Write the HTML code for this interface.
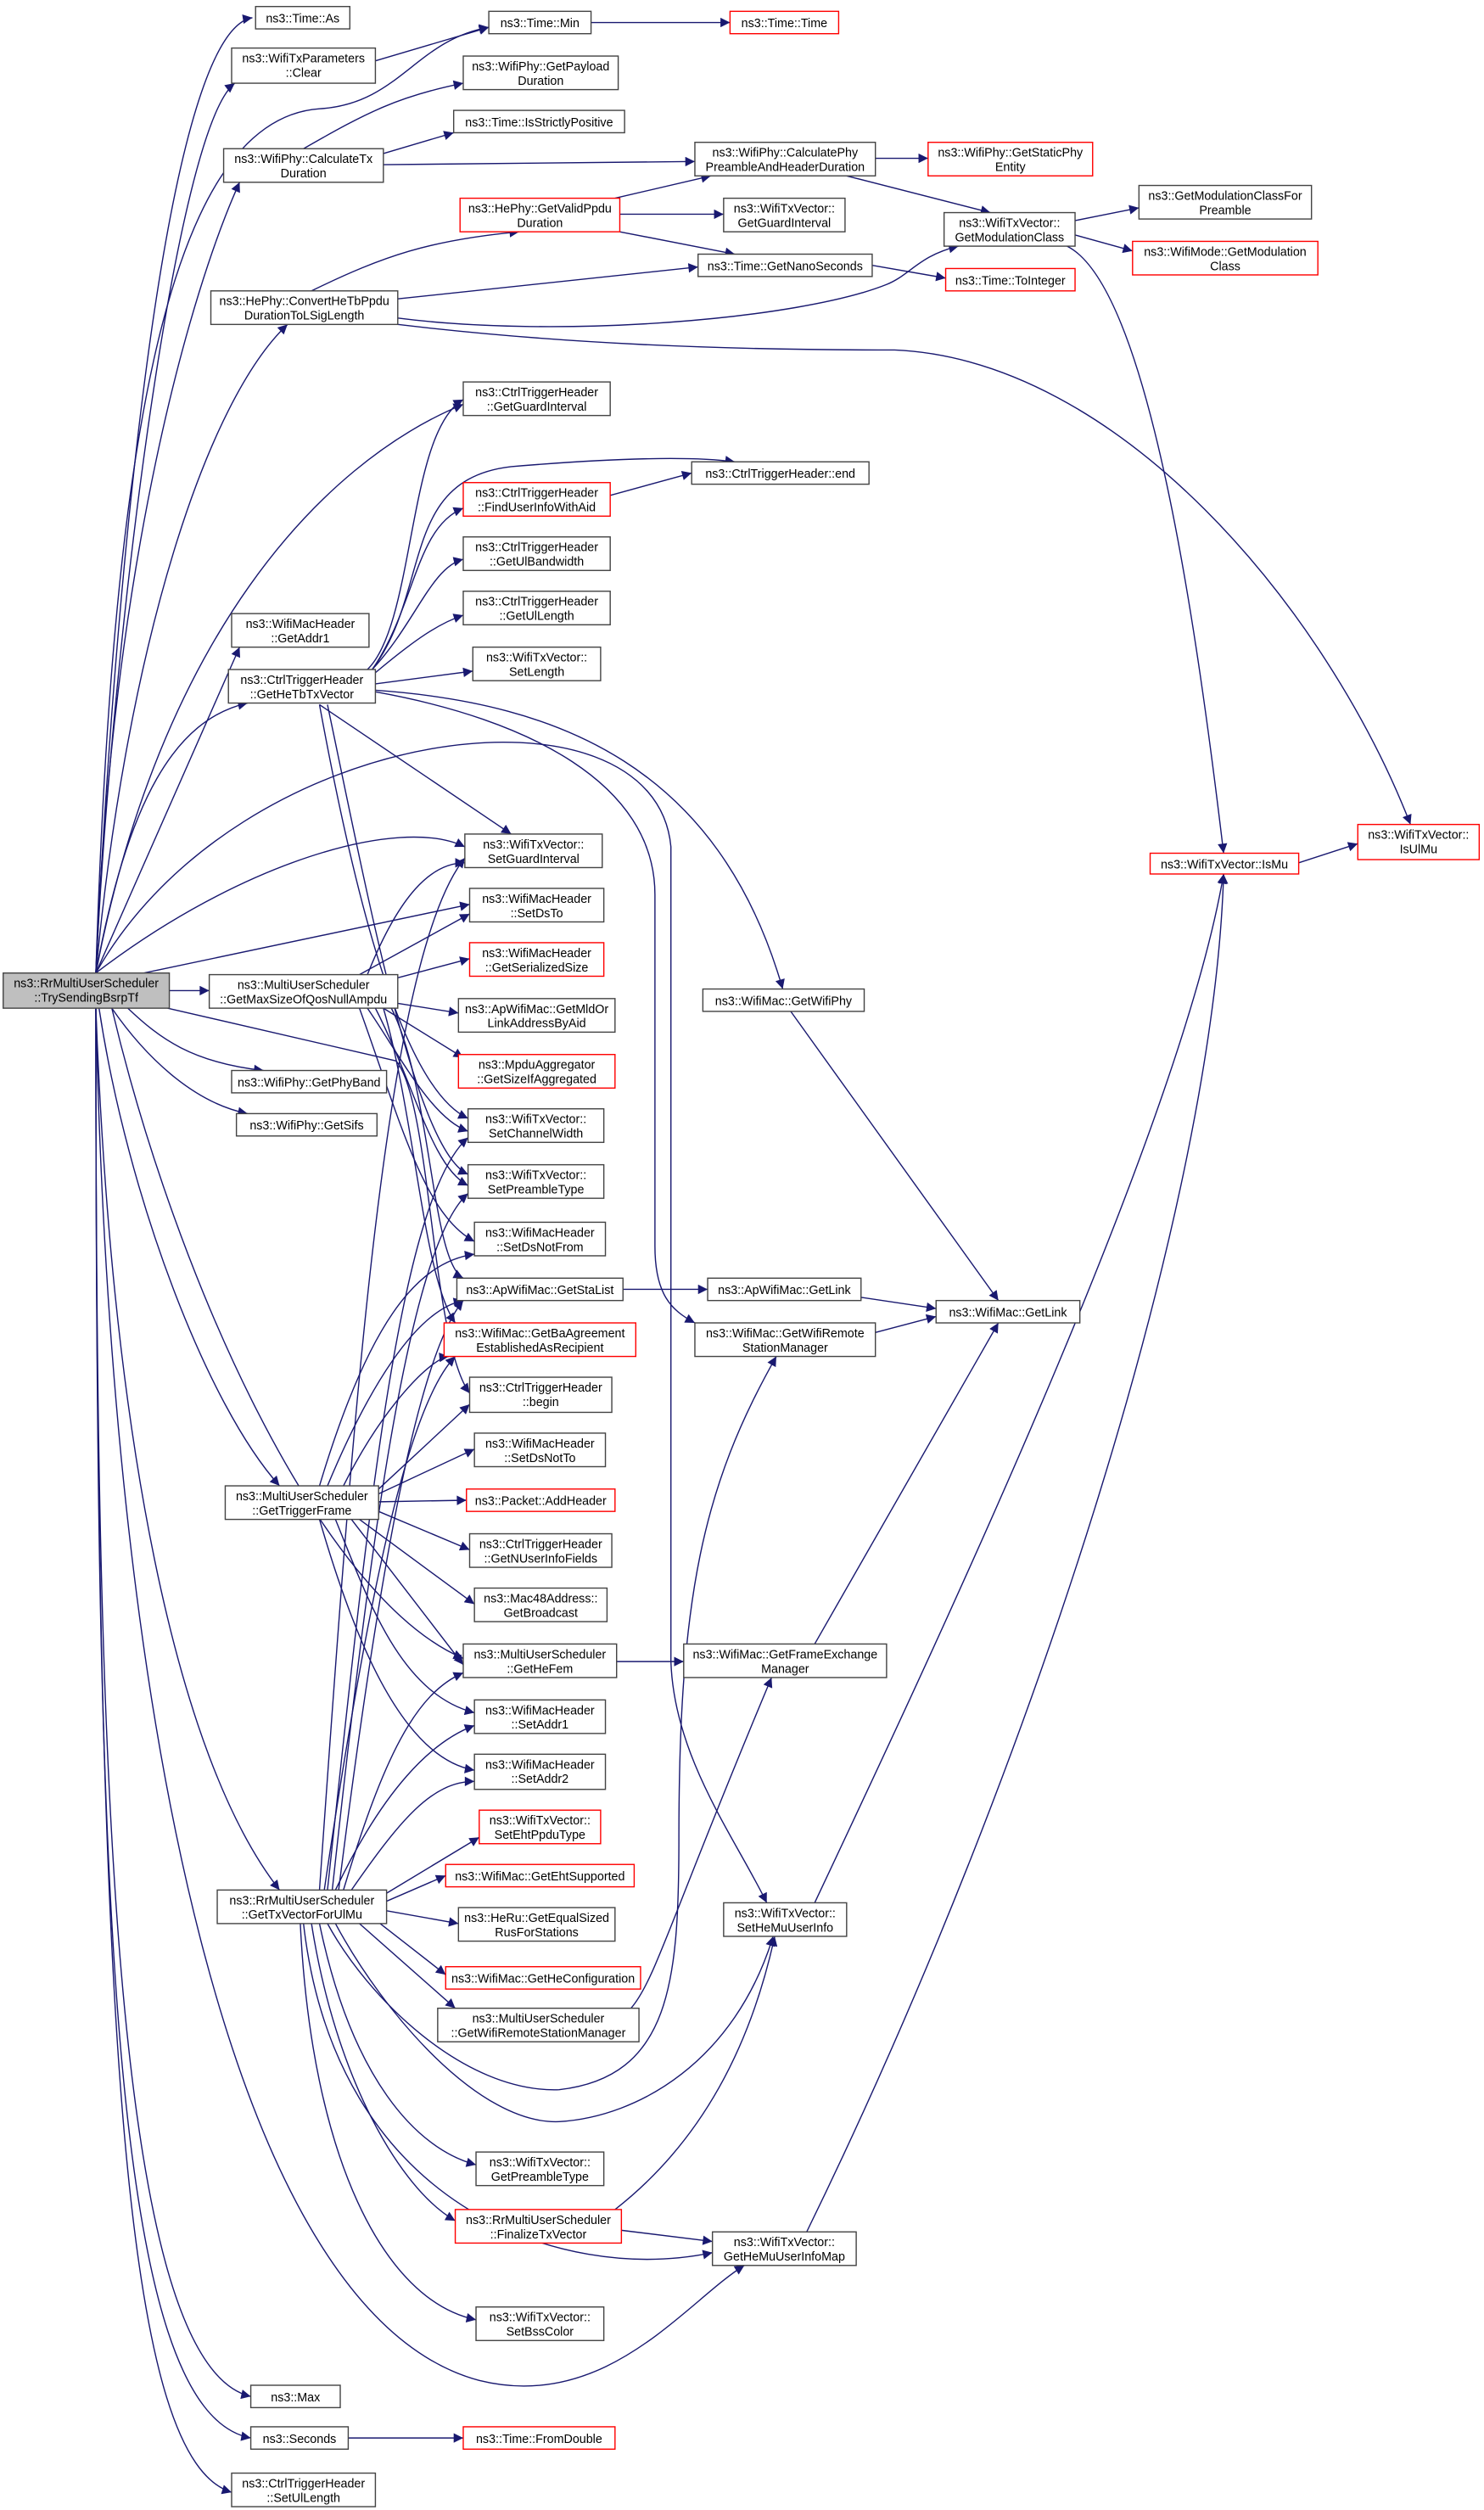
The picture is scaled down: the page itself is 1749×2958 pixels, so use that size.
<!DOCTYPE html>
<html><head><meta charset="utf-8"><style>
html,body{margin:0;padding:0;background:#fff}
svg{display:block}
text{font-family:"Liberation Sans","DejaVu Sans",sans-serif;font-size:7.6px;fill:#000;text-anchor:middle}
.n{fill:#fff;stroke:#444;stroke-width:0.75}
.r{fill:#fff;stroke:#ff0000;stroke-width:0.75}
.g{fill:#bfbfbf;stroke:#444;stroke-width:0.75}
.e{fill:none;stroke:#191970;stroke-width:0.75;marker-end:url(#a)}
</style></head><body>
<svg width="1749" height="2958" viewBox="0 0 929 1571" xmlns="http://www.w3.org/2000/svg">
<defs><marker id="a" viewBox="0 0 10 10" refX="10" refY="5" markerWidth="8" markerHeight="6" markerUnits="userSpaceOnUse" orient="auto"><path d="M0,0 L10,5 L0,10 z" fill="#191970"/></marker></defs>
<g>
<path class="e" d="M60,609 C70,400 100,20 158,11"/>
<path class="e" d="M60,609 C70,400 110,80 147,52"/>
<path class="e" d="M60,609 C70,300 100,75 200,68 C250,65 260,25 306,17"/>
<path class="e" d="M235,38 L306,17"/>
<path class="e" d="M370,14 L457,14"/>
<path class="e" d="M190,93 C230,70 250,60 290,52"/>
<path class="e" d="M240,96 L284,83"/>
<path class="e" d="M240,103 L435,101"/>
<path class="e" d="M60,609 C70,350 120,180 150,114"/>
<path class="e" d="M548,99 L581,99"/>
<path class="e" d="M530,110 L620,133"/>
<path class="e" d="M385,124 L445,110"/>
<path class="e" d="M388,134 L453,134"/>
<path class="e" d="M388,145 L460,159"/>
<path class="e" d="M195,182 C240,160 270,150 325,145"/>
<path class="e" d="M249,187 L437,167"/>
<path class="e" d="M249,199 C350,212 500,200 555,178 C570,172 575,160 600,154"/>
<path class="e" d="M249,203 C350,215 450,219 560,219 C700,225 830,380 883,516"/>
<path class="e" d="M546,166 L592,174"/>
<path class="e" d="M673,138 L713,130"/>
<path class="e" d="M673,147 L709,157"/>
<path class="e" d="M668,154 C720,180 750,400 766,534"/>
<path class="e" d="M813,540 L850,528"/>
<path class="e" d="M60,609 C80,400 130,250 180,203"/>
<path class="e" d="M60,609 C100,400 200,290 290,253"/>
<path class="e" d="M60,609 L150,405"/>
<path class="e" d="M60,609 C80,500 110,450 155,440"/>
<path class="e" d="M230,419 C260,390 255,270 290,250"/>
<path class="e" d="M233,419 C270,370 250,300 320,292 C380,287 430,285 460,289"/>
<path class="e" d="M382,310 L433,296"/>
<path class="e" d="M233,419 C260,380 260,330 290,318"/>
<path class="e" d="M233,419 C260,390 270,355 290,350"/>
<path class="e" d="M235,421 C260,400 275,390 290,385"/>
<path class="e" d="M235,428 L296,420"/>
<path class="e" d="M200,441 L320,522"/>
<path class="e" d="M235,432 C350,440 450,480 490,619"/>
<path class="e" d="M235,433 C330,450 410,490 410,560 L410,780 C410,810 420,820 435,828"/>
<path class="e" d="M200,441 C220,550 250,680 293,700"/>
<path class="e" d="M205,441 C230,560 260,720 293,735"/>
<path class="e" d="M60,609 C150,450 410,420 420,530 L420,1040 C422,1100 460,1150 480,1191"/>
<path class="e" d="M60,609 C150,540 250,510 291,530"/>
<path class="e" d="M90,609 L294,566"/>
<path class="e" d="M106,620 L131,620"/>
<path class="e" d="M230,610 C250,560 270,540 291,540"/>
<path class="e" d="M249,612 L294,600"/>
<path class="e" d="M225,610 L294,572"/>
<path class="e" d="M249,628 L287,634"/>
<path class="e" d="M240,631 L290,662"/>
<path class="e" d="M230,631 C250,660 270,700 293,708"/>
<path class="e" d="M235,631 C260,680 270,730 293,742"/>
<path class="e" d="M225,631 C250,700 265,760 297,777"/>
<path class="e" d="M245,631 C270,680 270,790 290,800"/>
<path class="e" d="M240,631 C260,700 265,800 285,828"/>
<path class="e" d="M80,631 C100,650 120,665 165,670"/>
<path class="e" d="M70,631 C90,660 120,690 155,697"/>
<path class="e" d="M105,631 L248,664 C270,690 270,840 294,872"/>
<path class="e" d="M70,631 C110,800 200,1000 290,1038"/>
<path class="e" d="M62,631 C80,750 130,880 175,930"/>
<path class="e" d="M60,631 C70,900 110,1100 175,1183"/>
<path class="e" d="M60,631 C70,1100 150,1450 300,1490 C380,1510 430,1440 466,1418"/>
<path class="e" d="M60,631 C60,1100 70,1480 157,1500"/>
<path class="e" d="M60,631 C60,1200 70,1510 157,1526"/>
<path class="e" d="M60,631 C60,1300 80,1540 145,1560"/>
<path class="e" d="M218,1526 L290,1526"/>
<path class="e" d="M237,935 L297,907"/>
<path class="e" d="M237,940 L292,939"/>
<path class="e" d="M237,946 L294,970"/>
<path class="e" d="M225,951 L297,1004"/>
<path class="e" d="M220,951 L290,1042"/>
<path class="e" d="M210,951 C230,1000 250,1060 297,1072"/>
<path class="e" d="M200,951 C220,1020 250,1100 297,1108"/>
<path class="e" d="M237,932 L294,879"/>
<path class="e" d="M205,930 C230,870 260,820 290,814"/>
<path class="e" d="M215,930 C240,880 270,850 281,849"/>
<path class="e" d="M200,930 C230,830 260,790 297,785"/>
<path class="e" d="M242,1185 L300,1150"/>
<path class="e" d="M242,1190 L279,1174"/>
<path class="e" d="M242,1196 L287,1204"/>
<path class="e" d="M238,1204 L279,1236"/>
<path class="e" d="M225,1204 L285,1257"/>
<path class="e" d="M210,1183 C240,1120 270,1090 297,1080"/>
<path class="e" d="M220,1183 C250,1140 270,1115 297,1115"/>
<path class="e" d="M200,1183 C220,900 240,600 291,537"/>
<path class="e" d="M205,1183 C230,950 250,750 293,712"/>
<path class="e" d="M208,1183 C230,980 255,780 293,747"/>
<path class="e" d="M212,1183 C235,1000 260,850 290,814"/>
<path class="e" d="M203,1183 C230,1000 255,880 285,849"/>
<path class="e" d="M215,1183 C240,1100 260,1060 290,1047"/>
<path class="e" d="M210,1204 C240,1260 300,1330 350,1328 C400,1325 460,1290 484,1212"/>
<path class="e" d="M205,1204 C230,1250 290,1310 350,1308 C420,1300 425,1240 425,1150 C425,1000 440,930 486,849"/>
<path class="e" d="M200,1204 C220,1300 260,1345 298,1355"/>
<path class="e" d="M195,1204 C210,1300 250,1370 285,1390"/>
<path class="e" d="M190,1204 C210,1380 350,1430 446,1410"/>
<path class="e" d="M188,1204 C195,1350 240,1440 298,1452"/>
<path class="e" d="M395,1257 C410,1240 420,1200 483,1050"/>
<path class="e" d="M386,1040 L428,1040"/>
<path class="e" d="M510,1029 L625,828"/>
<path class="e" d="M390,807 L443,807"/>
<path class="e" d="M539,812 L586,819"/>
<path class="e" d="M548,834 L586,824"/>
<path class="e" d="M495,633 L625,814"/>
<path class="e" d="M510,1191 C600,1000 740,700 766,547"/>
<path class="e" d="M505,1397 C650,1100 760,750 766,547"/>
<path class="e" d="M385,1383 C440,1340 470,1280 485,1212"/>
<path class="e" d="M389,1396 L446,1403"/>
</g>
<g>
<rect class="g" x="2" y="609" width="104" height="22"/><text x="54" y="618">ns3::RrMultiUserScheduler</text><text x="54" y="627">::TrySendingBsrpTf</text>
<rect class="n" x="160" y="4" width="59" height="14"/><text x="189.5" y="14">ns3::Time::As</text>
<rect class="n" x="145" y="30" width="90" height="22"/><text x="190" y="39">ns3::WifiTxParameters</text><text x="190" y="48">::Clear</text>
<rect class="n" x="306" y="7" width="64" height="14"/><text x="338" y="17">ns3::Time::Min</text>
<rect class="r" x="457" y="7" width="68" height="14"/><text x="491" y="17">ns3::Time::Time</text>
<rect class="n" x="290" y="35" width="97" height="21"/><text x="338.5" y="44">ns3::WifiPhy::GetPayload</text><text x="338.5" y="53">Duration</text>
<rect class="n" x="284" y="69" width="107" height="14"/><text x="337.5" y="79">ns3::Time::IsStrictlyPositive</text>
<rect class="n" x="140" y="93" width="100" height="21"/><text x="190" y="102">ns3::WifiPhy::CalculateTx</text><text x="190" y="111">Duration</text>
<rect class="n" x="435" y="89" width="113" height="21"/><text x="491.5" y="98">ns3::WifiPhy::CalculatePhy</text><text x="491.5" y="107">PreambleAndHeaderDuration</text>
<rect class="r" x="581" y="89" width="103" height="21"/><text x="632.5" y="98">ns3::WifiPhy::GetStaticPhy</text><text x="632.5" y="107">Entity</text>
<rect class="r" x="288" y="124" width="100" height="21"/><text x="338" y="133">ns3::HePhy::GetValidPpdu</text><text x="338" y="142">Duration</text>
<rect class="n" x="453" y="124" width="76" height="21"/><text x="491" y="133">ns3::WifiTxVector::</text><text x="491" y="142">GetGuardInterval</text>
<rect class="n" x="591" y="133" width="82" height="21"/><text x="632" y="142">ns3::WifiTxVector::</text><text x="632" y="151">GetModulationClass</text>
<rect class="n" x="713" y="116" width="108" height="21"/><text x="767" y="125">ns3::GetModulationClassFor</text><text x="767" y="134">Preamble</text>
<rect class="r" x="709" y="151" width="116" height="21"/><text x="767" y="160">ns3::WifiMode::GetModulation</text><text x="767" y="169">Class</text>
<rect class="n" x="437" y="159" width="109" height="14"/><text x="491.5" y="169">ns3::Time::GetNanoSeconds</text>
<rect class="r" x="592" y="168" width="81" height="14"/><text x="632.5" y="178">ns3::Time::ToInteger</text>
<rect class="n" x="132" y="182" width="117" height="21"/><text x="190.5" y="191">ns3::HePhy::ConvertHeTbPpdu</text><text x="190.5" y="200">DurationToLSigLength</text>
<rect class="n" x="290" y="239" width="92" height="21"/><text x="336" y="248">ns3::CtrlTriggerHeader</text><text x="336" y="257">::GetGuardInterval</text>
<rect class="n" x="433" y="289" width="111" height="14"/><text x="488.5" y="299">ns3::CtrlTriggerHeader::end</text>
<rect class="r" x="290" y="302" width="92" height="21"/><text x="336" y="311">ns3::CtrlTriggerHeader</text><text x="336" y="320">::FindUserInfoWithAid</text>
<rect class="n" x="290" y="336" width="92" height="21"/><text x="336" y="345">ns3::CtrlTriggerHeader</text><text x="336" y="354">::GetUlBandwidth</text>
<rect class="n" x="290" y="370" width="92" height="21"/><text x="336" y="379">ns3::CtrlTriggerHeader</text><text x="336" y="388">::GetUlLength</text>
<rect class="n" x="145" y="384" width="86" height="21"/><text x="188" y="393">ns3::WifiMacHeader</text><text x="188" y="402">::GetAddr1</text>
<rect class="n" x="143" y="419" width="92" height="21"/><text x="189" y="428">ns3::CtrlTriggerHeader</text><text x="189" y="437">::GetHeTbTxVector</text>
<rect class="n" x="296" y="405" width="80" height="21"/><text x="336" y="414">ns3::WifiTxVector::</text><text x="336" y="423">SetLength</text>
<rect class="r" x="720" y="534" width="93" height="13"/><text x="766.5" y="543.5">ns3::WifiTxVector::IsMu</text>
<rect class="r" x="850" y="516" width="76" height="22"/><text x="888" y="525">ns3::WifiTxVector::</text><text x="888" y="534">IsUlMu</text>
<rect class="n" x="291" y="522" width="86" height="21"/><text x="334" y="531">ns3::WifiTxVector::</text><text x="334" y="540">SetGuardInterval</text>
<rect class="n" x="294" y="556" width="84" height="21"/><text x="336" y="565">ns3::WifiMacHeader</text><text x="336" y="574">::SetDsTo</text>
<rect class="r" x="294" y="590" width="84" height="21"/><text x="336" y="599">ns3::WifiMacHeader</text><text x="336" y="608">::GetSerializedSize</text>
<rect class="n" x="131" y="610" width="118" height="21"/><text x="190" y="619">ns3::MultiUserScheduler</text><text x="190" y="628">::GetMaxSizeOfQosNullAmpdu</text>
<rect class="n" x="440" y="619" width="101" height="14"/><text x="490.5" y="629">ns3::WifiMac::GetWifiPhy</text>
<rect class="n" x="287" y="625" width="98" height="21"/><text x="336" y="634">ns3::ApWifiMac::GetMldOr</text><text x="336" y="643">LinkAddressByAid</text>
<rect class="r" x="287" y="660" width="98" height="21"/><text x="336" y="669">ns3::MpduAggregator</text><text x="336" y="678">::GetSizeIfAggregated</text>
<rect class="n" x="145" y="670" width="97" height="14"/><text x="193.5" y="680">ns3::WifiPhy::GetPhyBand</text>
<rect class="n" x="148" y="697" width="88" height="14"/><text x="192" y="707">ns3::WifiPhy::GetSifs</text>
<rect class="n" x="293" y="694" width="85" height="21"/><text x="335.5" y="703">ns3::WifiTxVector::</text><text x="335.5" y="712">SetChannelWidth</text>
<rect class="n" x="293" y="729" width="85" height="21"/><text x="335.5" y="738">ns3::WifiTxVector::</text><text x="335.5" y="747">SetPreambleType</text>
<rect class="n" x="297" y="765" width="82" height="21"/><text x="338" y="774">ns3::WifiMacHeader</text><text x="338" y="783">::SetDsNotFrom</text>
<rect class="n" x="286" y="800" width="104" height="14"/><text x="338" y="810">ns3::ApWifiMac::GetStaList</text>
<rect class="n" x="443" y="800" width="96" height="14"/><text x="491" y="810">ns3::ApWifiMac::GetLink</text>
<rect class="n" x="586" y="814" width="90" height="14"/><text x="631" y="824">ns3::WifiMac::GetLink</text>
<rect class="r" x="278" y="828" width="120" height="21"/><text x="338" y="837">ns3::WifiMac::GetBaAgreement</text><text x="338" y="846">EstablishedAsRecipient</text>
<rect class="n" x="435" y="828" width="113" height="21"/><text x="491.5" y="837">ns3::WifiMac::GetWifiRemote</text><text x="491.5" y="846">StationManager</text>
<rect class="n" x="294" y="862" width="89" height="22"/><text x="338.5" y="871">ns3::CtrlTriggerHeader</text><text x="338.5" y="880">::begin</text>
<rect class="n" x="297" y="897" width="82" height="21"/><text x="338" y="906">ns3::WifiMacHeader</text><text x="338" y="915">::SetDsNotTo</text>
<rect class="r" x="292" y="932" width="93" height="14"/><text x="338.5" y="942">ns3::Packet::AddHeader</text>
<rect class="n" x="141" y="930" width="96" height="21"/><text x="189" y="939">ns3::MultiUserScheduler</text><text x="189" y="948">::GetTriggerFrame</text>
<rect class="n" x="294" y="960" width="89" height="21"/><text x="338.5" y="969">ns3::CtrlTriggerHeader</text><text x="338.5" y="978">::GetNUserInfoFields</text>
<rect class="n" x="297" y="994" width="83" height="21"/><text x="338.5" y="1003">ns3::Mac48Address::</text><text x="338.5" y="1012">GetBroadcast</text>
<rect class="n" x="290" y="1029" width="96" height="21"/><text x="338" y="1038">ns3::MultiUserScheduler</text><text x="338" y="1047">::GetHeFem</text>
<rect class="n" x="428" y="1029" width="127" height="21"/><text x="491.5" y="1038">ns3::WifiMac::GetFrameExchange</text><text x="491.5" y="1047">Manager</text>
<rect class="n" x="297" y="1064" width="82" height="21"/><text x="338" y="1073">ns3::WifiMacHeader</text><text x="338" y="1082">::SetAddr1</text>
<rect class="n" x="297" y="1098" width="82" height="22"/><text x="338" y="1107">ns3::WifiMacHeader</text><text x="338" y="1116">::SetAddr2</text>
<rect class="r" x="300" y="1133" width="76" height="21"/><text x="338" y="1142">ns3::WifiTxVector::</text><text x="338" y="1151">SetEhtPpduType</text>
<rect class="r" x="279" y="1167" width="118" height="14"/><text x="338" y="1177">ns3::WifiMac::GetEhtSupported</text>
<rect class="n" x="136" y="1183" width="106" height="21"/><text x="189" y="1192">ns3::RrMultiUserScheduler</text><text x="189" y="1201">::GetTxVectorForUlMu</text>
<rect class="n" x="287" y="1194" width="98" height="21"/><text x="336" y="1203">ns3::HeRu::GetEqualSized</text><text x="336" y="1212">RusForStations</text>
<rect class="n" x="453" y="1191" width="77" height="21"/><text x="491.5" y="1200">ns3::WifiTxVector::</text><text x="491.5" y="1209">SetHeMuUserInfo</text>
<rect class="r" x="279" y="1231" width="122" height="14"/><text x="340" y="1241">ns3::WifiMac::GetHeConfiguration</text>
<rect class="n" x="274" y="1257" width="126" height="21"/><text x="337" y="1266">ns3::MultiUserScheduler</text><text x="337" y="1275">::GetWifiRemoteStationManager</text>
<rect class="n" x="298" y="1347" width="80" height="21"/><text x="338" y="1356">ns3::WifiTxVector::</text><text x="338" y="1365">GetPreambleType</text>
<rect class="r" x="285" y="1383" width="104" height="21"/><text x="337" y="1392">ns3::RrMultiUserScheduler</text><text x="337" y="1401">::FinalizeTxVector</text>
<rect class="n" x="446" y="1397" width="90" height="21"/><text x="491" y="1406">ns3::WifiTxVector::</text><text x="491" y="1415">GetHeMuUserInfoMap</text>
<rect class="n" x="298" y="1444" width="80" height="21"/><text x="338" y="1453">ns3::WifiTxVector::</text><text x="338" y="1462">SetBssColor</text>
<rect class="n" x="157" y="1493" width="56" height="14"/><text x="185" y="1503">ns3::Max</text>
<rect class="n" x="157" y="1519" width="61" height="14"/><text x="187.5" y="1529">ns3::Seconds</text>
<rect class="r" x="290" y="1519" width="95" height="14"/><text x="337.5" y="1529">ns3::Time::FromDouble</text>
<rect class="n" x="145" y="1548" width="90" height="21"/><text x="190" y="1557">ns3::CtrlTriggerHeader</text><text x="190" y="1566">::SetUlLength</text>
</g>
</svg>
</body></html>
